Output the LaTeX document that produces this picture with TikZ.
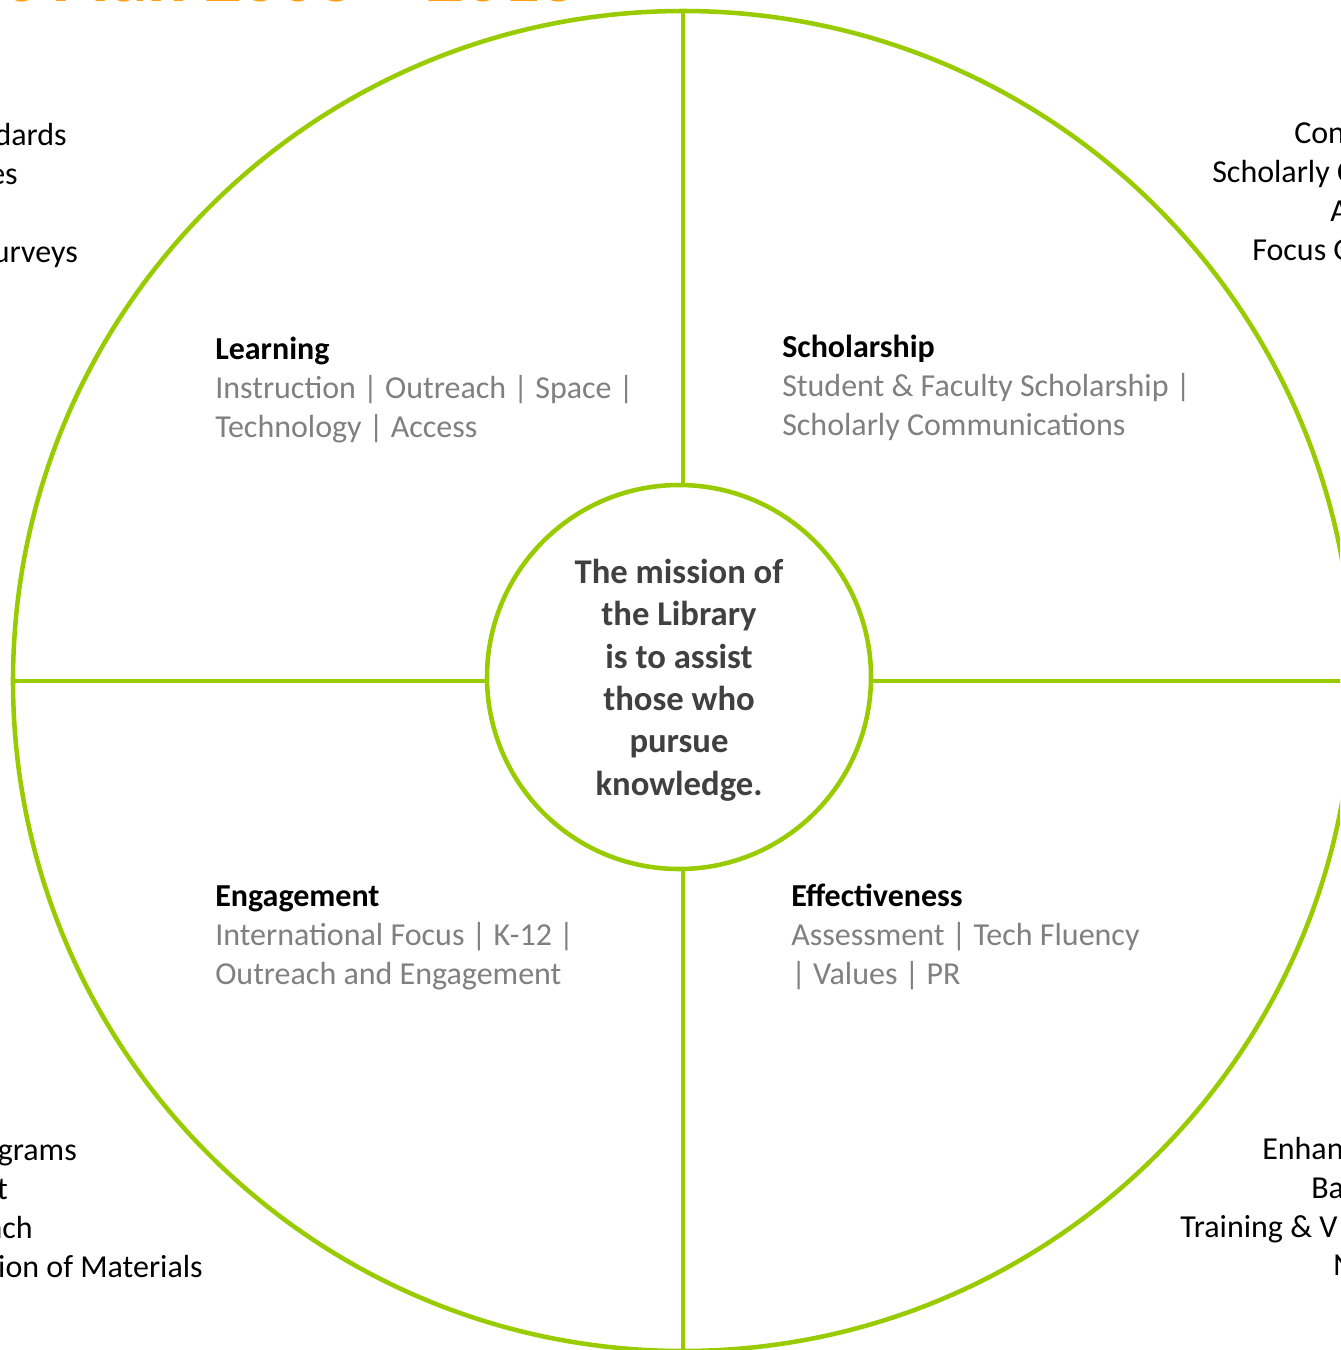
\documentclass[tikz,border=0pt]{standalone}
\usepackage{fontspec}
\setmainfont{Carlito}
\definecolor{ringgreen}{RGB}{153,204,0}
\definecolor{subgray}{RGB}{128,128,128}
\definecolor{darktext}{RGB}{64,64,64}
\definecolor{titleorange}{RGB}{255,160,20}
\begin{document}
\begin{tikzpicture}[x=0.75pt,y=-0.75pt,
  ring/.style={draw=ringgreen,line width=3.4pt,circle,inner sep=0pt,outer sep=0pt},
  spoke/.style={draw=ringgreen,line width=3.4pt},
  body/.style={inner sep=0pt,font=\fontsize{24pt}{29pt}\selectfont},
  head/.style={body,font=\fontsize{24pt}{29pt}\selectfont\bfseries,text=black},
  item/.style={body,text=subgray},
  side/.style={body,text=black},
  mission/.style={inner sep=0pt,align=center,text=darktext,
    font=\fontsize{26pt}{31.8pt}\selectfont\bfseries}]
\useasboundingbox (0,0) rectangle (1340,1350);
\clip (0,0) rectangle (1340,1350);
\fill[white] (0,0) rectangle (1340,1350);

% title (cut off at the top)
\node[anchor=base east,inner sep=0pt,text=titleorange,font=\fontsize{56pt}{60pt}\selectfont\bfseries]
  (title) at (578,1) {Strategic Plan 2008 – 2013};

% circles
\node[ring,minimum size=1005pt] (outer) at (683,681) {};
\node[ring,fill=white,minimum size=288pt] (inner) at (679,677) {};

% spokes
\draw[spoke] (outer.north) -- (outer.north |- inner.north);
\draw[spoke] (outer.south |- inner.south) -- (outer.south);
\draw[spoke] (outer.west) -- (outer.west -| inner.west);
\draw[spoke] (outer.east -| inner.east) -- (outer.east);

% mission text
\node[mission] (missiontext) at (679,680) {The mission of\\the Library\\is to assist\\those who\\pursue\\knowledge.};

% Learning
\node[head,anchor=base west] (learnH) at (215,359) {Learning};
\node[item,anchor=base west] (learn1) at (215,398) {Instruction | Outreach | Space |};
\node[item,anchor=base west] (learn2) at (215,437) {Technology | Access};

% Scholarship
\node[head,anchor=base west] (scholH) at (782,357) {Scholarship};
\node[item,anchor=base west] (schol1) at (782,396) {Student \& Faculty Scholarship |};
\node[item,anchor=base west] (schol2) at (782,435) {Scholarly Communications};

% Engagement
\node[head,anchor=base west] (engH) at (215,906) {Engagement};
\node[item,anchor=base west] (eng1) at (215,945) {International Focus | K-12 |};
\node[item,anchor=base west] (eng2) at (215,984) {Outreach and Engagement};

% Effectiveness
\node[head,anchor=base west] (effH) at (791,906) {Effectiveness};
\node[item,anchor=base west] (eff1) at (791,945) {Assessment | Tech Fluency};
\node[item,anchor=base west] (eff2) at (791,984) {| Values | PR};

% side texts, top left
\node[side,anchor=base east] (tl1) at (67,145) {dards};
\node[side,anchor=base east] (tl2) at (18,184) {es};
\node[side,anchor=base east] (tl3) at (78,262) {urveys};

% side texts, bottom left
\node[side,anchor=base east] (bl1) at (77,1160) {grams};
\node[side,anchor=base east] (bl2) at (8,1199) {t};
\node[side,anchor=base east] (bl3) at (33,1238) {nch};
\node[side,anchor=base east] (bl4) at (203,1277) {ion of Materials};

% side texts, top right
\node[side,anchor=base west] (tr1) at (1294,143) {Con};
\node[side,anchor=base west] (tr2) at (1212,182) {Scholarly C};
\node[side,anchor=base west] (tr3) at (1330,221) {A};
\node[side,anchor=base west] (tr4) at (1252,260) {Focus G};

% side texts, bottom right
\node[side,anchor=base west] (br1) at (1262,1159) {Enhan};
\node[side,anchor=base west] (br2) at (1311,1198) {Ba};
\node[side,anchor=base west] (br3) at (1180,1237) {Training \& V};
\node[side,anchor=base west] (br4) at (1333,1275) {N};
\end{tikzpicture}
\end{document}
